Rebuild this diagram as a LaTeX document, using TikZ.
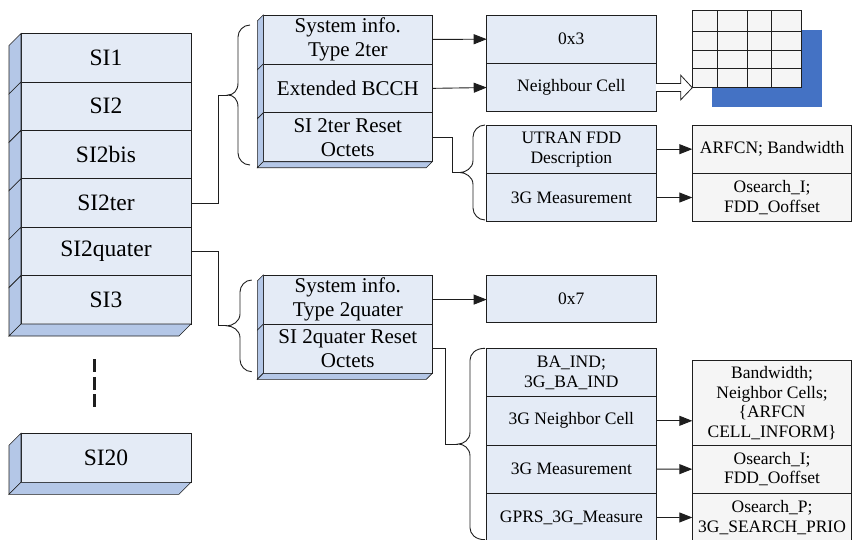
\documentclass[tikz,border=0pt]{standalone}
\usepackage{fontspec}
\setmainfont{Liberation Serif}
\usetikzlibrary{arrows.meta,calc}
\definecolor{facecol}{HTML}{E4EBF6}
\definecolor{sidecol}{HTML}{B4C7E7}
\definecolor{greycol}{HTML}{F5F5F5}
\definecolor{bluecol}{HTML}{4472C4}
\definecolor{linecol}{HTML}{1E1E1E}
\newcommand\sideface[2]{\filldraw[fill=sidecol, draw=linecol, line width=0.6pt] (#1.north west) -- ++(-#2,#2) -- ($(#1.south west)+(-#2,#2)$) -- (#1.south west) -- cycle;}
\newcommand\bottomface[2]{\filldraw[fill=sidecol, draw=linecol, line width=0.6pt] (#1.south west) -- ++(-#2,#2) -- ($(#1.south east)+(-#2,#2)$) -- (#1.south east) -- cycle;}
\newcommand\mybrace[6]{%
 \coordinate (#1) at (#4,{(#5+#6)/2});
 \draw[conn] (#2,#5) .. controls ({#3+5},#5) and (#3,{#5+6}) .. (#3,{#5+12})
   -- (#3,{(#5+#6)/2-12}) .. controls (#3,{(#5+#6)/2-4}) and ({#4+5},{(#5+#6)/2}) .. (#1)
   .. controls ({#4+5},{(#5+#6)/2}) and (#3,{(#5+#6)/2+4}) .. (#3,{(#5+#6)/2+12})
   -- (#3,{#6-12}) .. controls (#3,{#6-6}) and ({#3+5},#6) .. (#2,#6);}
\begin{document}
\begin{tikzpicture}[x=1pt,y=-1pt,
  box/.style={draw=linecol, line width=0.8pt, fill=facecol, inner sep=0pt, outer sep=0pt, align=center, anchor=north west},
  sibox/.style={box, minimum width=170, minimum height=48.42, font=\fontsize{23.5}{27}\selectfont},
  midbox/.style={box, minimum width=169, minimum height=48.9, font=\fontsize{21}{24}\selectfont},
  abox/.style={box, minimum width=169.3, minimum height=48.35, font=\fontsize{17.5}{20}\selectfont},
  bbox/.style={box, fill=greycol, minimum width=159.5, minimum height=48.35, font=\fontsize{17.5}{19.5}\selectfont},
  conn/.style={draw=linecol, line width=0.9pt},
  arr/.style={conn, -{Triangle[length=13pt,width=10pt]}}]
\useasboundingbox (0,0) rectangle (853,539);
% left column
\node[sibox] (s1) at (21,33.5) {SI1};
\node[sibox] (s2) at (21,81.92) {SI2};
\node[sibox] (s3) at (21,130.34) {SI2bis};
\node[sibox] (s4) at (21,178.76) {SI2ter};
\node[sibox] (s5) at (21,227.18) {SI2quater};
\node[sibox] (s6) at (21,275.6) {SI3};
\foreach \n in {s1,s2,s3,s4,s5,s6} {\sideface{\n}{12}}
\bottomface{s6}{12}
\coordinate (d1) at (94,359.3);
\coordinate (d2) at (94,410);
\draw[linecol, line width=3pt, dash pattern=on 13pt off 4.5pt] (d1) -- (d2);
\node[sibox, minimum height=49] (s20) at (21,433.3) {SI20};
\sideface{s20}{12}
\bottomface{s20}{12}
% middle top block
\node[midbox] (m1) at (263.3,15) {System info.\\Type 2ter};
\node[midbox] (m2) at (263.3,63.9) {Extended BCCH};
\node[midbox] (m3) at (263.3,112.8) {SI 2ter Reset\\Octets};
\foreach \n in {m1,m2,m3} {\sideface{\n}{6}}
\bottomface{m3}{6}
% middle bottom block
\node[midbox, minimum height=49.15] (n1) at (263.3,275) {System info.\\Type 2quater};
\node[midbox, minimum height=49.15] (n2) at (263.3,324.15) {SI 2quater Reset\\Octets};
\foreach \n in {n1,n2} {\sideface{\n}{6}}
\bottomface{n2}{6}
% column A
\node[abox] (a1) at (486.7,15) {0x3};
\node[abox] (a2) at (486.7,63.35) {Neighbour Cell};
\node[abox] (a3) at (486.7,125) {UTRAN FDD\\Description};
\node[abox] (a4) at (486.7,173.35) {3G Measurement};
\node[abox, minimum height=47.7] (a5) at (486.7,275) {0x7};
\node[abox, minimum height=48.33] (a6) at (486.7,348.3) {BA\_IND;\\3G\_BA\_IND};
\node[abox, minimum height=48.33] (a7) at (486.7,396.63) {3G Neighbor Cell};
\node[abox, minimum height=48.33] (a8) at (486.7,444.96) {3G Measurement};
\node[abox, minimum height=48.33] (a9) at (486.7,493.29) {GPRS\_3G\_Measure};
% column B
\node[bbox] (b1) at (692.3,125) {ARFCN; Bandwidth};
\node[bbox] (b2) at (692.3,173.35) {Osearch\_I;\\FDD\_Ooffset};
\node[bbox, minimum height=84.3] (b3) at (692.3,360.7) {Bandwidth;\\Neighbor Cells;\\\{ARFCN\\CELL\_INFORM\}};
\node[bbox, minimum height=48.3] (b4) at (692.3,445) {Osearch\_I;\\FDD\_Ooffset};
\node[bbox, minimum height=48.3] (b5) at (692.3,493.3) {Osearch\_P;\\3G\_SEARCH\_PRIO};
% grid
\fill[bluecol] (711.7,30) rectangle (821.7,107.3);
\node[fill=greycol, draw=linecol, line width=0.8pt, minimum width=109.4, minimum height=77.7, anchor=north west, inner sep=0pt, outer sep=0pt] (grid) at (692.3,10) {};
\foreach \x in {717.3,747.3,771.7} {\draw[conn] (\x,10) -- (\x,87.7);}
\foreach \y in {31.7,50,68.3} {\draw[conn] (692.3,\y) -- (801.7,\y);}
% hollow arrow
\draw[draw=linecol, fill=white, line width=0.8pt] ($(a2.east)+(0,-4)$) -- ++(24.7,0) -- ++(0,-8.3) -- (grid.south west) -- ($(a2.east)+(24.7,12.3)$) -- ++(0,-8.3) -- ($(a2.east)+(0,4)$);
% braces
\mybrace{br1}{250}{238}{228}{25}{165}
\mybrace{br2}{251.7}{240}{227}{280}{371.7}
\mybrace{br3}{485}{473}{460}{125}{220}
\mybrace{br4}{485}{470}{458.3}{348.3}{539.7}
% connectors
\draw[conn] (s4.east) -- ++(27.3,0) |- (br1);
\draw[conn] (s5.east) -- ++(27.3,0) |- (br2);
\draw[conn] (m3.east) -- ++(20,0) |- (br3);
\draw[conn] (n2.east) -- ++(12.7,0) |- (br4);
% arrows
\draw[arr] (m1.east) -- (a1.west);
\draw[arr] (m2.east) -- (a2.west);
\draw[arr] (a3.east) -- (b1.west);
\draw[arr] (a4.east) -- (b2.west);
\draw[arr] (n1.east) -- (n1.east -| a5.west);
\draw[arr] (a7.east) -- (a7.east -| b3.west);
\draw[arr] (a8.east) -- (b4.west);
\draw[arr] (a9.east) -- (b5.west);
\end{tikzpicture}
\end{document}
